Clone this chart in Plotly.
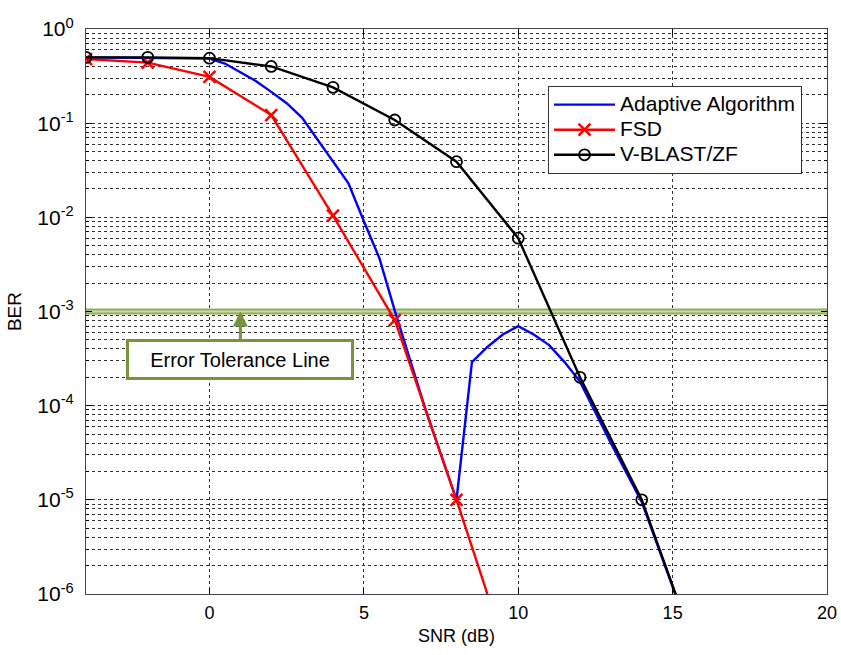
import plotly.graph_objects as go

# ---------------- data ----------------
snr_adaptive = [-4, -2, 0, 0.5, 1, 1.5, 2, 2.5, 3, 3.5, 4, 4.5, 5, 5.5, 6, 7, 8,
                8.5, 9, 9.5, 10, 10.5, 11, 11.5, 12, 13, 14, 15, 16]
ber_adaptive = [0.50, 0.49, 0.485, 0.43, 0.345, 0.28, 0.215, 0.163, 0.114, 0.067, 0.039,
                0.023, 0.0091, 0.0037, 0.00102, 9e-5, 1.0e-5,
                2.9e-4, 4.2e-4, 5.7e-4, 7.0e-4, 5.7e-4, 4.4e-4, 2.9e-4, 1.8e-4,
                4.0e-5, 9.5e-6, 1.2e-6, 1.5e-7]

snr_fsd = [-4, -2, 0, 2, 4, 6, 8, 10]
ber_fsd = [0.48, 0.44, 0.31, 0.122, 0.0104, 8.1e-4, 1.0e-5, 1e-7]

snr_vblast = [-4, -2, 0, 2, 4, 6, 8, 10, 12, 14, 16]
ber_vblast = [0.50, 0.50, 0.49, 0.40, 0.24, 0.108, 0.039, 0.0060, 2.0e-4, 1.0e-5, 1.5e-7]

tolerance_x = [-4, 20]
tolerance_ber = [1.0e-3, 1.0e-3]

x_ticks = [0, 5, 10, 15, 20]
y_ticks = [1, 1e-1, 1e-2, 1e-3, 1e-4, 1e-5, 1e-6]
y_ticktext = ["10<sup>0</sup>", "10<sup>-1</sup>", "10<sup>-2</sup>", "10<sup>-3</sup>",
              "10<sup>-4</sup>", "10<sup>-5</sup>", "10<sup>-6</sup>"]
y_minor = [k * 10.0 ** e for e in range(-6, 0) for k in range(2, 10)]

FONT = "Liberation Sans, Arial, sans-serif"
GREEN_DARK = "#77933C"
GREEN_LINE = "#8FAE5A"
GREEN_LIGHT = "#C9DCA6"


def legend_label(s):
    return ('<span style="font-size:21px;font-family:Liberation Sans">' + s + '</span>')


fig = go.Figure()

# error tolerance line (double green line)
fig.add_trace(go.Scatter(x=tolerance_x, y=tolerance_ber, mode="lines",
                         line=dict(color=GREEN_LINE, width=6),
                         showlegend=False, hoverinfo="skip"))
fig.add_trace(go.Scatter(x=tolerance_x, y=tolerance_ber, mode="lines",
                         line=dict(color=GREEN_LIGHT, width=2),
                         showlegend=False, hoverinfo="skip"))

fig.add_trace(go.Scatter(x=snr_adaptive, y=ber_adaptive, mode="lines",
                         name=legend_label("Adaptive Algorithm"),
                         line=dict(color="#0000FF", width=2.4)))
fig.add_trace(go.Scatter(x=snr_fsd, y=ber_fsd, mode="lines+markers",
                         name=legend_label("FSD"),
                         line=dict(color="#FF0000", width=2.4),
                         marker=dict(symbol="x-thin", size=12,
                                     line=dict(color="#FF0000", width=2.5))))
fig.add_trace(go.Scatter(x=snr_vblast, y=ber_vblast, mode="lines+markers",
                         name=legend_label("V-BLAST/ZF"),
                         line=dict(color="#000000", width=2.4),
                         marker=dict(symbol="circle-open", size=11, color="#000000",
                                     line=dict(width=1.8))))

fig.add_annotation(x=1, y=-3, xref="x", yref="y",
                   ax=0, ay=48, axref="pixel", ayref="pixel",
                   text="Error Tolerance Line", showarrow=True,
                   arrowhead=2, arrowsize=1, arrowwidth=3, arrowcolor=GREEN_DARK,
                   font=dict(family=FONT, size=20, color="#000000"),
                   bgcolor="#FFFFFF", bordercolor=GREEN_DARK, borderwidth=3,
                   width=222, height=35, borderpad=0)

grid_common = dict(showgrid=True, gridcolor="#333333", gridwidth=1, griddash="3px,3px")

fig.update_xaxes(range=[-4, 20], tickvals=x_ticks, automargin=False,
                 ticks="inside", ticklen=6, tickcolor="#000000",
                 showline=True, linecolor="#444444", linewidth=1.2, mirror="allticks",
                 zeroline=False, ticklabelstandoff=2,
                 tickfont=dict(family=FONT, size=18, color="#000000"),
                 title=dict(text="SNR (dB)", font=dict(family=FONT, size=18, color="#000000"),
                            standoff=7),
                 **grid_common)
fig.update_yaxes(type="log", range=[-6, 0], tickvals=y_ticks, ticktext=y_ticktext,
                 automargin=False,
                 ticks="inside", ticklen=6, tickcolor="#000000",
                 showline=True, linecolor="#444444", linewidth=1.2, mirror="allticks",
                 zeroline=False, ticklabelstandoff=7,
                 tickfont=dict(family=FONT, size=21, color="#000000"),
                 title=dict(text="BER", font=dict(family=FONT, size=19, color="#000000"),
                            standoff=10),
                 minor=dict(tickvals=y_minor, showgrid=True, gridcolor="#333333",
                            gridwidth=1, griddash="3px,3px", ticks="inside", ticklen=3),
                 **grid_common)

fig.update_layout(
    width=841, height=655,
    margin=dict(l=86, r=14, t=29, b=61),
    paper_bgcolor="#FFFFFF", plot_bgcolor="#FFFFFF",
    font=dict(family=FONT, color="#000000"),
    legend=dict(x=0.6235, y=0.899, xanchor="left", yanchor="top",
                bgcolor="#FFFFFF", bordercolor="#333333", borderwidth=1,
                font=dict(family="Liberation Sans", size=17, color="#000000"),
                itemwidth=61, tracegroupgap=0),
)

# remove the default page margin so the figure fills the window exactly
fig.write_html("out.html",
               config={"displayModeBar": False},
               post_script="document.body.style.margin='0px';"
                           "document.body.style.overflow='hidden';")
